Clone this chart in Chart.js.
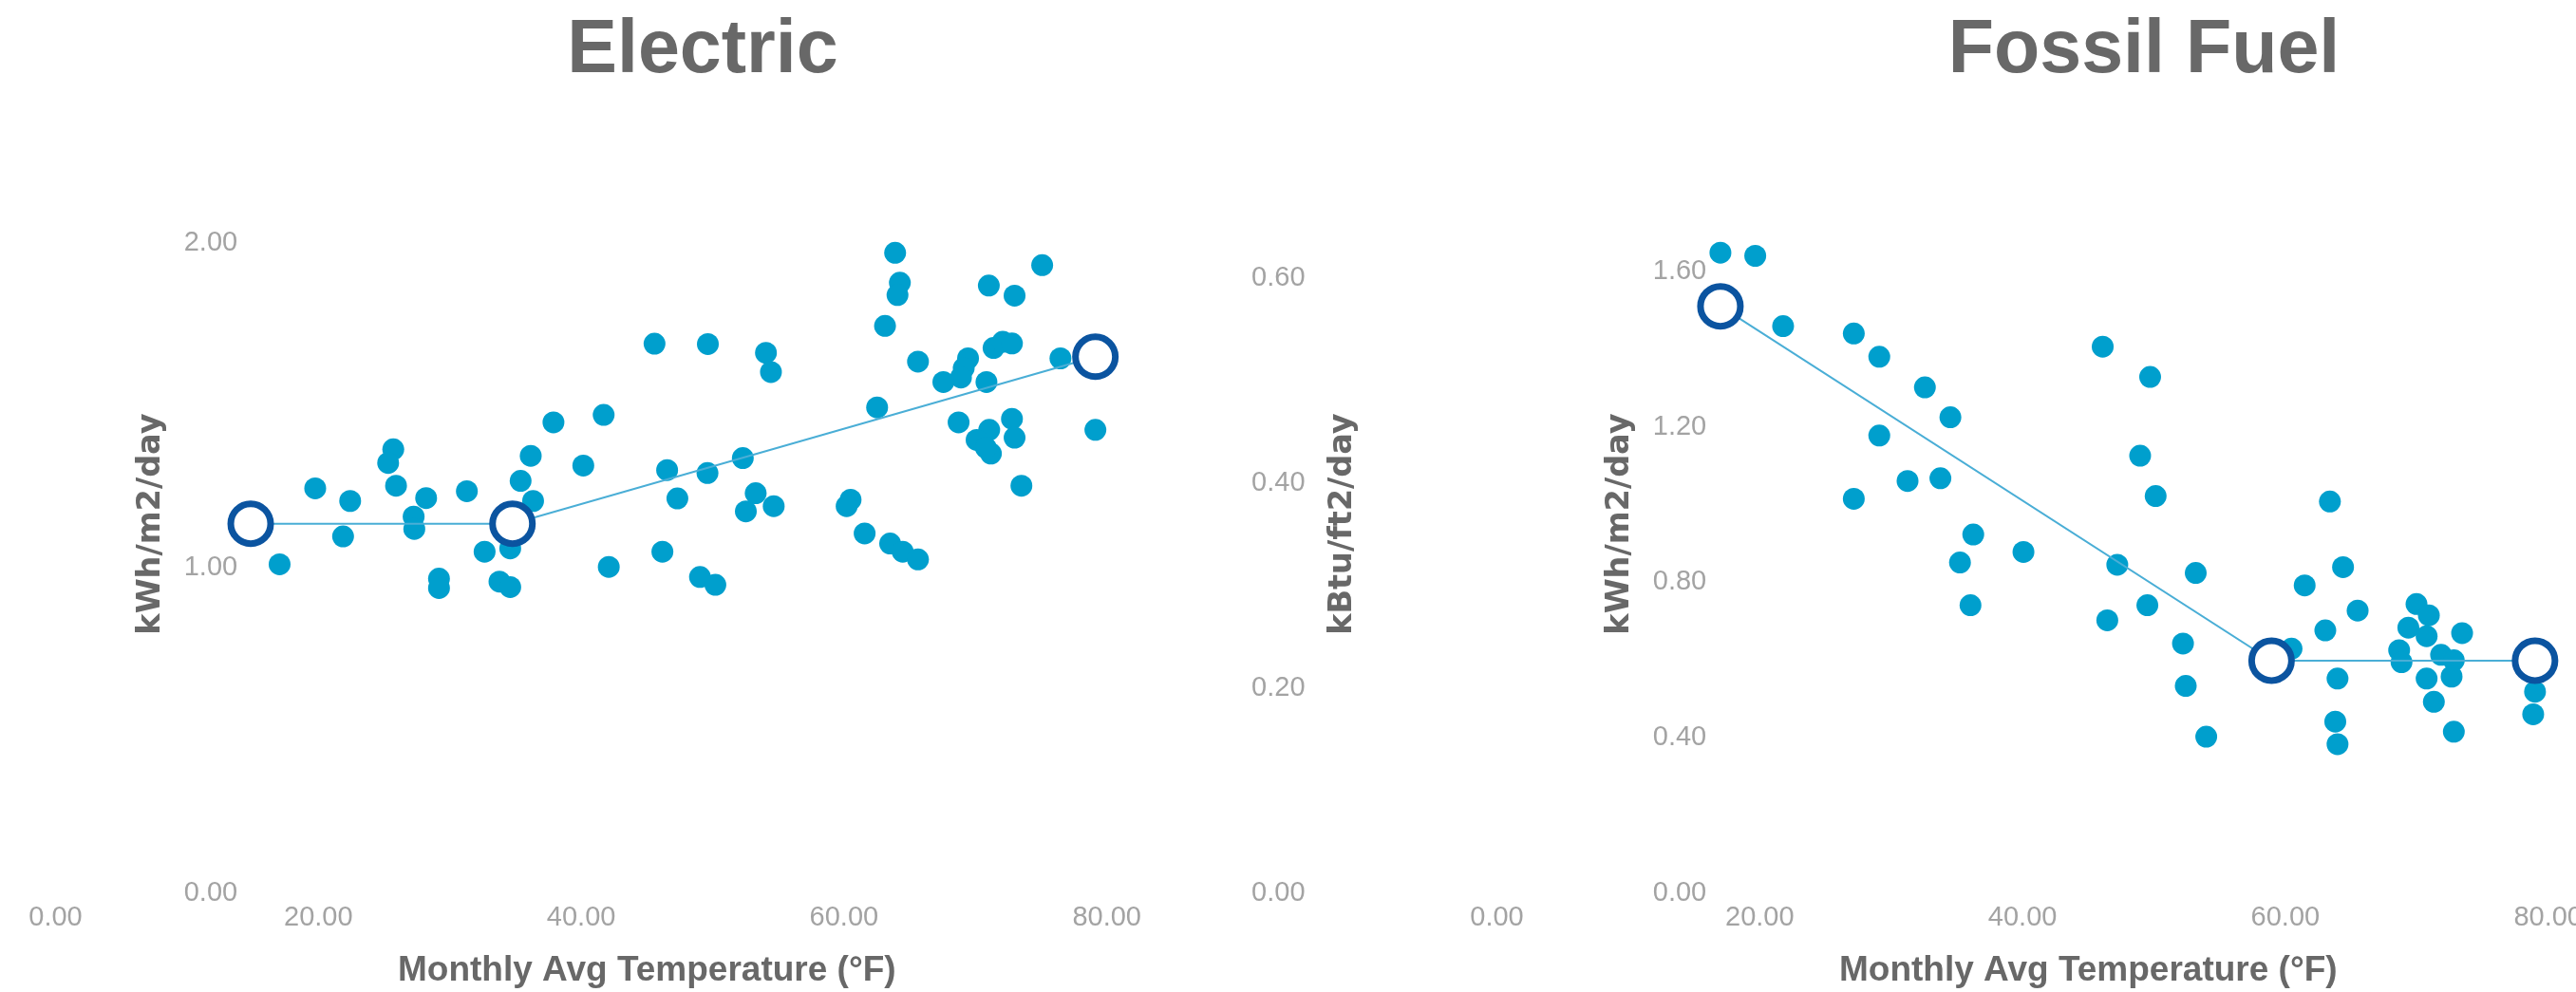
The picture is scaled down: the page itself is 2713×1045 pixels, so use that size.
<!DOCTYPE html>
<html>
<head>
<meta charset="utf-8">
<script src="https://cdn.jsdelivr.net/npm/chart.js@4.4.1/dist/chart.umd.min.js"></script>
<style>
  html, body { margin: 0; padding: 0; background: #ffffff; overflow: hidden; width: 2713px; height: 1045px; }
  .panel { position: absolute; top: 0; width: 1480px; height: 1045px; }
</style>
</head>
<body>
<div class="panel" style="left:0px"><canvas id="elec" width="1480" height="1045"></canvas></div>
<div class="panel" style="left:1518px"><canvas id="fossil" width="1480" height="1045"></canvas></div>
<script>
// ---------- data ----------
const xTickValues = [0, 20, 40, 60, 80];
const elecYTicks = [0, 1, 2];
const fossilYTicks = [0, 0.4, 0.8, 1.2, 1.6];
const kbtuTicks = [0, 0.2, 0.4, 0.6];

const elecTemp = [17.05, 19.76, 22.42, 21.88, 25.70, 25.31, 25.91, 28.20, 27.25, 27.30,
  29.18, 29.18, 31.30, 32.65, 33.78, 34.60, 34.60, 35.39, 36.34, 36.16,
  37.89, 40.16, 41.71, 42.10, 45.58, 46.54, 47.32, 46.18, 49.64, 54.06,
  54.44, 63.89, 64.25, 64.07, 63.12, 65.63, 75.08, 71.02, 72.98, 71.38,
  72.08, 72.78, 69.44, 69.11, 68.90, 67.56, 70.84, 76.47, 62.52, 79.13,
  68.72, 71.05, 72.78, 72.98, 70.09, 71.18, 70.79, 73.50, 52.30, 49.61,
  53.28, 52.53, 54.65, 60.50, 60.20, 61.57, 63.51, 64.47, 65.63, 49.04, 50.21];
const elecUse = [1.011, 1.245, 1.206, 1.097, 1.365, 1.323, 1.253, 1.215, 1.158, 1.120,
  0.967, 0.938, 1.236, 1.050, 0.958, 0.941, 1.060, 1.268, 1.206, 1.345,
  1.448, 1.315, 1.471, 1.003, 1.690, 1.301, 1.214, 1.050, 1.689, 1.662,
  1.603, 1.970, 1.878, 1.840, 1.745, 1.635, 1.932, 1.869, 1.838, 1.677,
  1.696, 1.691, 1.645, 1.615, 1.586, 1.572, 1.572, 1.645, 1.494, 1.425,
  1.448, 1.425, 1.459, 1.401, 1.394, 1.352, 1.370, 1.253, 1.338, 1.292,
  1.230, 1.174, 1.190, 1.210, 1.190, 1.106, 1.075, 1.050, 1.026, 0.972, 0.948];
const elecFitTemp = [14.85, 34.77, 79.13];
const elecFitUse = [1.136, 1.136, 1.650];

const fossilTemp = [17.01, 19.66, 21.78, 27.16, 27.16, 29.10, 32.57, 34.51, 29.10, 31.25,
  33.75, 36.25, 35.24, 40.07, 36.04, 46.10, 49.71, 48.95, 50.13, 47.21,
  46.45, 49.50, 53.18, 52.21, 52.42, 53.98, 60.47, 63.39, 61.47, 64.39,
  65.50, 63.04, 63.97, 63.80, 63.97, 69.98, 70.92, 69.36, 70.75, 73.45,
  68.66, 68.84, 71.85, 72.82, 72.65, 70.75, 71.30, 72.82, 79.00, 78.86];
const fossilUse = [1.649, 1.641, 1.460, 1.441, 1.015, 1.381, 1.302, 1.225, 1.178, 1.061,
  1.068, 0.923, 0.851, 0.878, 0.741, 1.407, 1.329, 1.126, 1.022, 0.845,
  0.702, 0.741, 0.824, 0.642, 0.533, 0.402, 0.629, 1.008, 0.792, 0.839,
  0.727, 0.676, 0.552, 0.441, 0.383, 0.744, 0.715, 0.683, 0.661, 0.669,
  0.625, 0.594, 0.613, 0.599, 0.557, 0.552, 0.492, 0.415, 0.518, 0.460];
const fossilFitTemp = [17.01, 58.95, 79.00];
const fossilFitUse = [1.511, 0.598, 0.598];

const xTitleText = 'Monthly Avg Temperature (°F)';
const kwhTitleText = 'kWh/m2/day';
const kbtuTitleText = 'kBtu/ft2/day';
const KBTU_PER_KWH = 0.317;

// ---------- style ----------
const POINT = '#009FCD';
const LINE = '#4AAED6';
const CIRCLE = '#0B54A0';
const TITLE = '#686868';
const TICK = '#A3A3A3';

const yTitlePlugin = {
  id: 'yTitles',
  afterDraw(chart, args, opts) {
    const ctx = chart.ctx;
    (opts.items || []).forEach(it => {
      const s = chart.scales[it.axis];
      let x;
      if (it.axis === 'y') {
        x = chart.scales.x.getPixelForValue(s.options.position.x) + it.dx;
      } else {
        x = s.left + it.dx;
      }
      const y = (s.top + s.bottom) / 2;
      ctx.save();
      ctx.translate(x, y);
      ctx.rotate(-Math.PI / 2);
      ctx.font = 'bold 33.5px "DejaVu Sans"';
      ctx.fillStyle = TITLE;
      ctx.textAlign = 'center';
      ctx.textBaseline = 'middle';
      ctx.fillText(s.options.title.text, 0, 0);
      ctx.restore();
    });
  }
};

function makeChart(id, cfg) {
  const tickFont = { family: 'Liberation Sans', size: 29 };
  return new Chart(document.getElementById(id), {
    type: 'scatter',
    data: {
      datasets: [
        {
          label: 'Monthly',
          data: cfg.temp.map((t, i) => ({ x: t, y: cfg.use[i] })),
          pointRadius: 11.5,
          pointHoverRadius: 11.5,
          backgroundColor: POINT,
          borderWidth: 0,
          order: 2
        },
        {
          label: 'Model',
          data: cfg.fitT.map((t, i) => ({ x: t, y: cfg.fitU[i] })),
          showLine: true,
          borderColor: LINE,
          borderWidth: 2,
          pointRadius: 21,
          pointHoverRadius: 21,
          pointBorderWidth: 7,
          pointBorderColor: CIRCLE,
          pointBackgroundColor: '#ffffff',
          order: 1
        }
      ]
    },
    options: {
      responsive: false,
      animation: false,
      events: [],
      layout: { padding: { left: 58.5, right: 58.5, top: 1, bottom: 0 } },
      plugins: {
        legend: { display: false },
        tooltip: { enabled: false },
        title: {
          display: true,
          text: cfg.title,
          color: TITLE,
          font: { family: 'Liberation Sans', size: 79, weight: 'bold' },
          padding: { top: 5.5, bottom: 62.3 }
        },
        yTitles: {
          items: [{ axis: 'y', dx: -91 }, { axis: 'y2', dx: 110 }]
        }
      },
      scales: {
        x: {
          type: 'linear',
          position: 'bottom',
          min: 0,
          max: 90,
          afterBuildTicks: s => { s.ticks = xTickValues.map(v => ({ value: v })); },
          grid: { display: false, drawTicks: false },
          border: { display: false },
          ticks: { color: TICK, font: tickFont, padding: 8.6, maxRotation: 0, autoSkip: false,
                   callback: v => Number(v).toFixed(2) },
          title: { display: true, text: xTitleText, color: TITLE,
                   font: { family: 'Liberation Sans', size: 37, weight: 'bold' },
                   padding: { top: 8.1, bottom: 0 } }
        },
        y: {
          type: 'linear',
          position: { x: cfg.cross },
          min: 0,
          max: cfg.yMax,
          afterBuildTicks: s => { s.ticks = cfg.yTicks.map(v => ({ value: v })); },
          grid: { display: false, drawTicks: false },
          border: { display: false },
          ticks: { color: TICK, font: tickFont, padding: 0, callback: v => Number(v).toFixed(2) },
          title: { display: false, text: kwhTitleText }
        },
        y2: {
          type: 'linear',
          position: 'right',
          min: 0,
          max: cfg.yMax * KBTU_PER_KWH,
          afterBuildTicks: s => { s.ticks = kbtuTicks.map(v => ({ value: v })); },
          afterFit: s => { s.width = 117.4; },
          grid: { display: false, drawTicks: false },
          border: { display: false },
          ticks: { color: TICK, font: tickFont, padding: 14, callback: v => Number(v).toFixed(2) },
          title: { display: false, text: kbtuTitleText }
        }
      }
    },
    plugins: [yTitlePlugin]
  });
}

makeChart('elec', {
  title: 'Electric', temp: elecTemp, use: elecUse, fitT: elecFitTemp, fitU: elecFitUse,
  yTicks: elecYTicks, yMax: 2.27, cross: 13.85
});
makeChart('fossil', {
  title: 'Fossil Fuel', temp: fossilTemp, use: fossilUse, fitT: fossilFitTemp, fitU: fossilFitUse,
  yTicks: fossilYTicks, yMax: 1.9, cross: 15.95
});
</script>
</body>
</html>
